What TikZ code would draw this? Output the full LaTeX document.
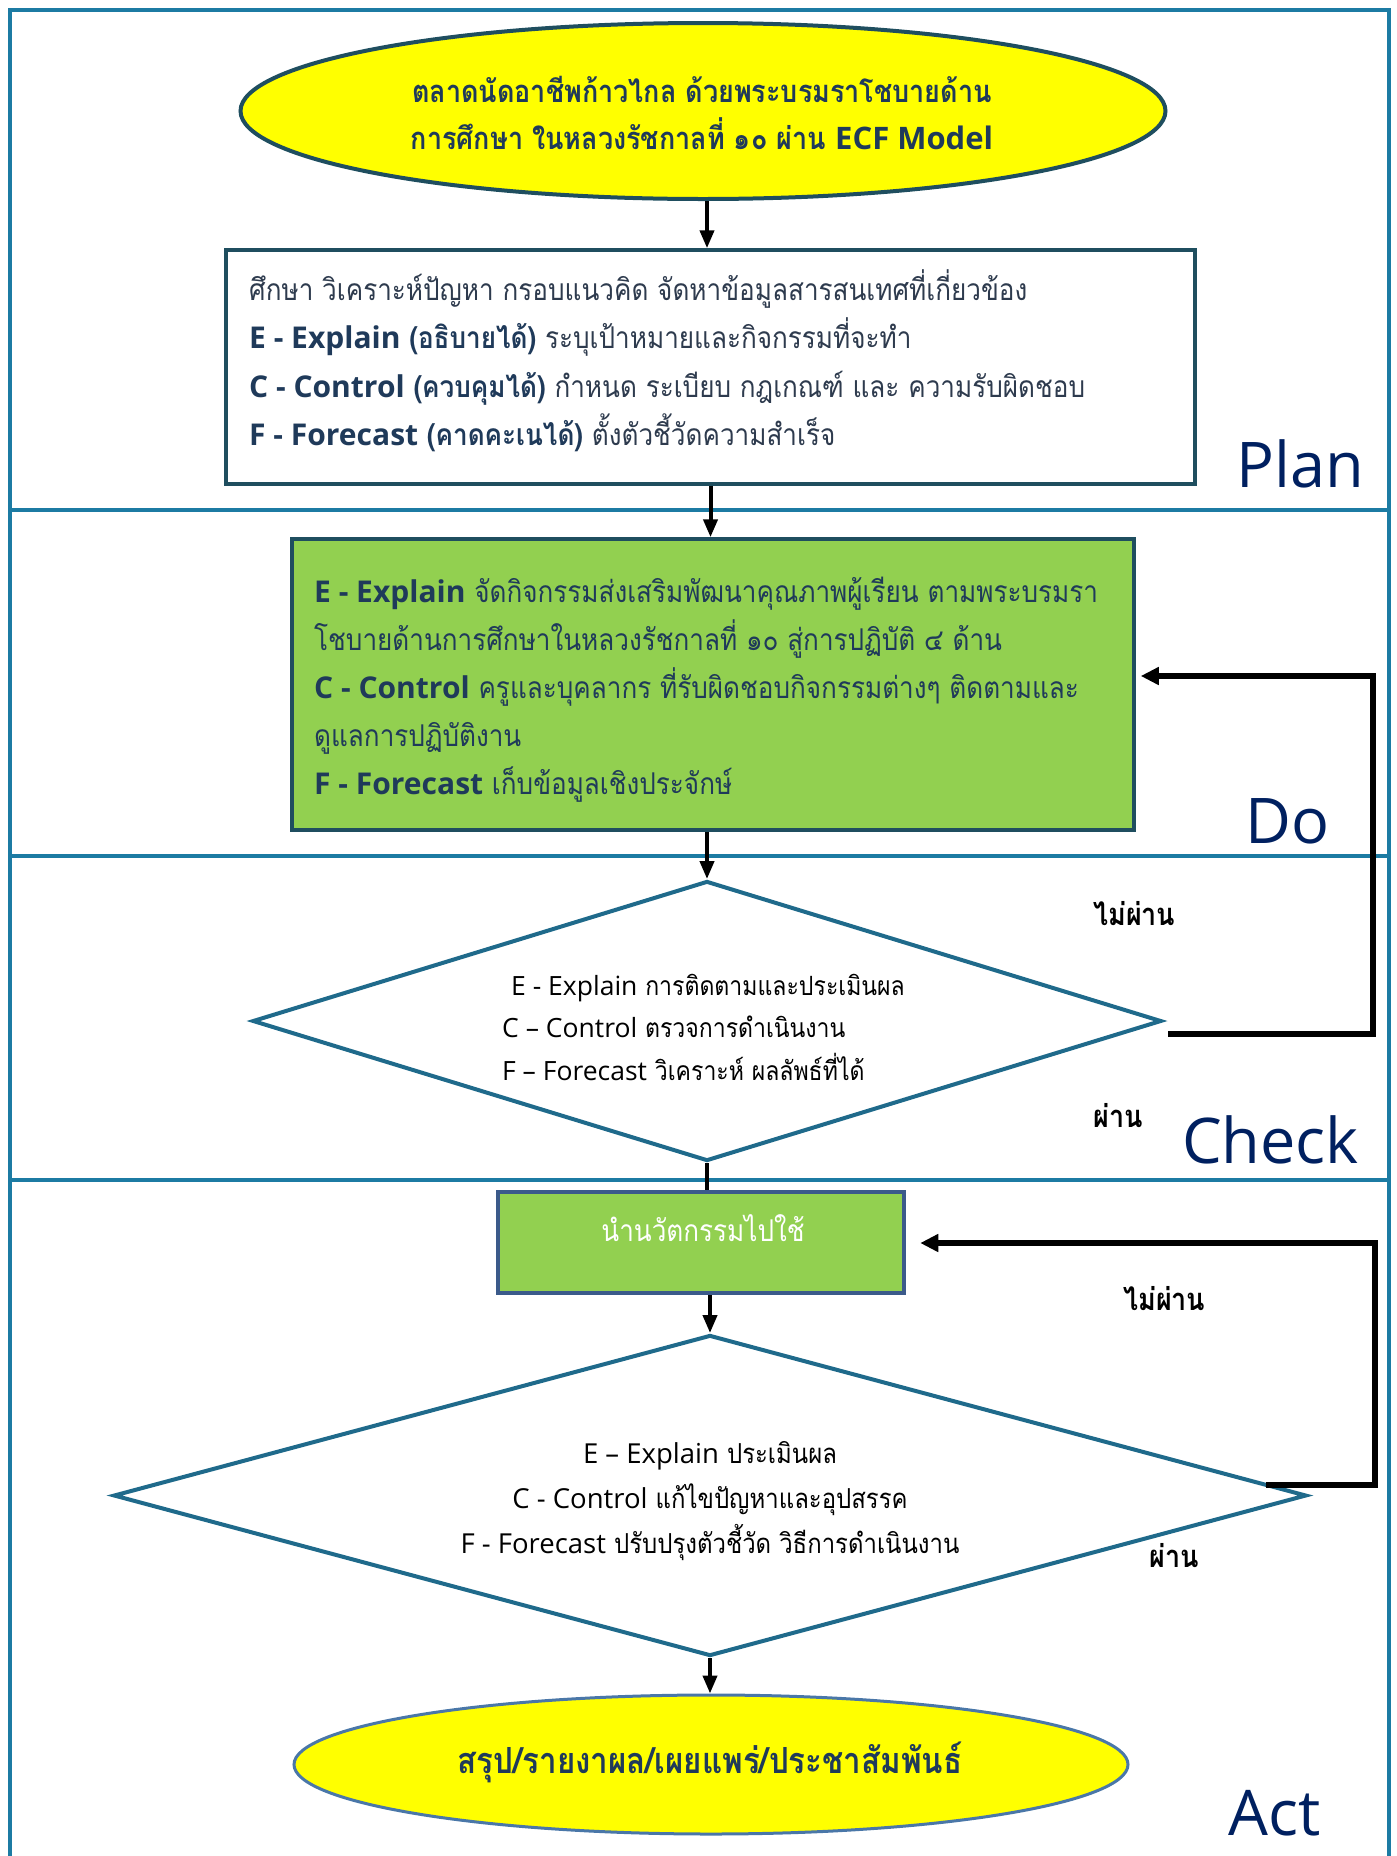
\documentclass[tikz,border=0pt]{standalone}
\usepackage{fontspec}
\setmainfont[Script=Thai,FakeStretch=0.87]{Loma}
\newfontfamily\laf{Open Sans}
\usetikzlibrary{shapes.geometric,arrows.meta,calc}
\definecolor{framec}{HTML}{1C7BA3}
\definecolor{edgedark}{HTML}{1F4E5F}
\definecolor{leaf}{HTML}{92D050}
\definecolor{yel}{HTML}{FFFF00}
\definecolor{diaedge}{HTML}{1F6A8B}
\definecolor{innedge}{HTML}{3B5A8A}
\definecolor{finedge}{HTML}{4A77A8}
\definecolor{secnavy}{HTML}{002060}
\definecolor{txtnavy}{HTML}{1F3A5A}
\definecolor{plantxt}{HTML}{2E3B4E}
\newcommand\LA[1]{{\laf #1}}
\begin{document}
\begin{tikzpicture}[x=1pt,y=-1pt,
  framel/.style={draw=framec,line width=4pt},
  arr/.style={line width=4pt,-{Triangle[length=18pt,width=14pt]}},
  plainl/.style={line width=4pt},
  fb/.style={line width=5.5pt,-{Triangle[length=18pt,width=17pt]}},
  sec/.style={anchor=base west,inner sep=0,text=secnavy,font=\laf\fontsize{63}{70}\selectfont},
  ptxt/.style={anchor=base west,inner sep=0,text=plantxt,font=\fontsize{30}{34}\selectfont},
  dtxt/.style={anchor=base west,inner sep=0,text=txtnavy,font=\fontsize{30}{34}\selectfont},
  ctxt/.style={anchor=base west,inner sep=0,text=black,font=\fontsize{26.5}{30}\selectfont},
  atxt/.style={anchor=base,inner sep=0,text=black,font=\fontsize{27.5}{32}\selectfont},
  yn/.style={anchor=base west,inner sep=0,text=black,font=\bfseries\fontsize{31}{34}\selectfont},
]
\useasboundingbox (0,0) rectangle (1397,1856);
\clip (0,0) rectangle (1397,1856);
% frame and bands
\draw[framel] (9.5,9.5) rectangle (1389,1900);
\draw[framel] (9.5,510) -- (1389,510);
\draw[framel] (9.5,856) -- (1389,856);
\draw[framel] (9.5,1180) -- (1389,1180);
% section labels
\node[sec] (splan) at (1236,487) {Plan};
\node[sec] (sdo) at (1245,843) {Do};
\node[sec] (scheck) at (1182,1163) {Check};
\node[sec] (sact) at (1228,1835) {Act};
% top ellipse
\node[ellipse,draw=edgedark,line width=4pt,fill=yel,minimum width=925pt,minimum height=176pt,inner sep=0] (e1) at (703,111) {};
\node[anchor=base,inner sep=0,text=txtnavy,font=\bfseries\fontsize{31}{34}\selectfont] (e1a) at (702,102) {ตลาดนัดอาชีพก้าวไกล ด้วยพระบรมราโชบายด้าน};
\node[anchor=base,inner sep=0,text=txtnavy,font=\bfseries\fontsize{31}{34}\selectfont] (e1b) at (702,149) {การศึกษา ในหลวงรัชกาลที่ ๑๐ ผ่าน \LA{ECF Model}};
% plan box
\node[draw=edgedark,line width=3.5pt,fill=white,minimum width=969pt,minimum height=234pt,inner sep=0] (pbox) at (710.5,367) {};
\node[ptxt] (p1) at (249,300) {ศึกษา วิเคราะห์ปัญหา กรอบแนวคิด จัดหาข้อมูลสารสนเทศที่เกี่ยวข้อง};
\node[ptxt] (p2) at (249,348.5) {{\bfseries\color{txtnavy}\LA{E - Explain} (อธิบายได้)} ระบุเป้าหมายและกิจกรรมที่จะทำ};
\node[ptxt] (p3) at (249,397) {{\bfseries\color{txtnavy}\LA{C - Control} (ควบคุมได้)} กำหนด ระเบียบ กฎเกณฑ์ และ ความรับผิดชอบ};
\node[ptxt] (p4) at (249,445.5) {{\bfseries\color{txtnavy}\LA{F - Forecast} (คาดคะเนได้)} ตั้งตัวชี้วัดความสำเร็จ};
% do box
\node[draw=edgedark,line width=3.5pt,fill=leaf,minimum width=842pt,minimum height=291pt,inner sep=0] (dbox) at (713,684.5) {};
\node[dtxt] (d1t) at (314,602) {\LA{\bfseries E - Explain} จัดกิจกรรมส่งเสริมพัฒนาคุณภาพผู้เรียน ตามพระบรมรา};
\node[dtxt] (d2t) at (314,650) {โชบายด้านการศึกษาในหลวงรัชกาลที่ ๑๐ สู่การปฏิบัติ ๔ ด้าน};
\node[dtxt] (d3t) at (314,698) {\LA{\bfseries C - Control} ครูและบุคลากร ที่รับผิดชอบกิจกรรมต่างๆ ติดตามและ};
\node[dtxt] (d4t) at (314,746) {ดูแลการปฏิบัติงาน};
\node[dtxt] (d5t) at (314,794) {\LA{\bfseries F - Forecast} เก็บข้อมูลเชิงประจักษ์};
% diamond 1
\node[diamond,draw=diaedge,line width=4pt,fill=white,minimum width=909pt,minimum height=280pt,inner sep=0] (dm1) at (707,1021) {};
\node[ctxt] (c1t) at (511,995) {\LA{E - Explain} การติดตามและประเมินผล};
\node[ctxt] (c2t) at (502,1037.5) {\LA{C – Control} ตรวจการดำเนินงาน};
\node[ctxt] (c3t) at (502,1080) {\LA{F – Forecast} วิเคราะห์ ผลลัพธ์ที่ได้};
\node[yn] (no1) at (1093,925) {ไม่ผ่าน};
\node[yn] (yes1) at (1093,1127) {ผ่าน};
% innovation box
\node[draw=innedge,line width=4.5pt,fill=leaf,minimum width=406pt,minimum height=101pt,inner sep=0] (ibox) at (701,1242.5) {};
\node[anchor=base,inner sep=0,text=white,font=\fontsize{30}{34}\selectfont] (it) at (703,1241) {นำนวัตกรรมไปใช้};
% diamond 2
\node[diamond,draw=diaedge,line width=4pt,fill=white,minimum width=1193pt,minimum height=321pt,inner sep=0] (dm2) at (710,1495.5) {};
\node[atxt] (a1t) at (710,1463) {\LA{E – Explain} ประเมินผล};
\node[atxt] (a2t) at (710,1508) {\LA{C - Control} แก้ไขปัญหาและอุปสรรค};
\node[atxt] (a3t) at (710,1553) {\LA{F - Forecast} ปรับปรุงตัวชี้วัด วิธีการดำเนินงาน};
\node[yn] (no2) at (1123,1310) {ไม่ผ่าน};
\node[yn] (yes2) at (1149,1567) {ผ่าน};
% final ellipse
\node[ellipse,draw=finedge,line width=3pt,fill=yel,minimum width=834pt,minimum height=139pt,inner sep=0] (e2) at (711,1764.5) {};
\node[anchor=base,inner sep=0,text=txtnavy,font=\bfseries\fontsize{36}{40}\selectfont] (e2t) at (710,1773) {สรุป/รายงาผล/เผยแพร่/ประชาสัมพันธ์};
% connectors
\draw[arr] (e1.south -| 707,0) -- (707,0 |- pbox.north);
\draw[arr] (pbox.south) -- (pbox.south |- dbox.north);
\draw[arr] (dm1.north |- dbox.south) -- (dm1.north);
\draw[plainl] (dm1.south) -- (dm1.south |- ibox.north);
\draw[arr] (dm2.north |- ibox.south) -- (dm2.north);
\draw[arr] (dm2.south) -- (dm2.south |- e2.north);
\coordinate (f1s) at (1168,1034);
\coordinate (f1k) at (1373,676);
\draw[fb,shorten >=5pt] (f1s) -| (f1k) -- (dbox.east |- f1k);
\coordinate (f2s) at (1266,1485);
\coordinate (f2k) at (1375,1243);
\draw[fb,shorten >=14pt] (f2s) -| (f2k) -- (ibox.east |- f2k);
\end{tikzpicture}
\end{document}
